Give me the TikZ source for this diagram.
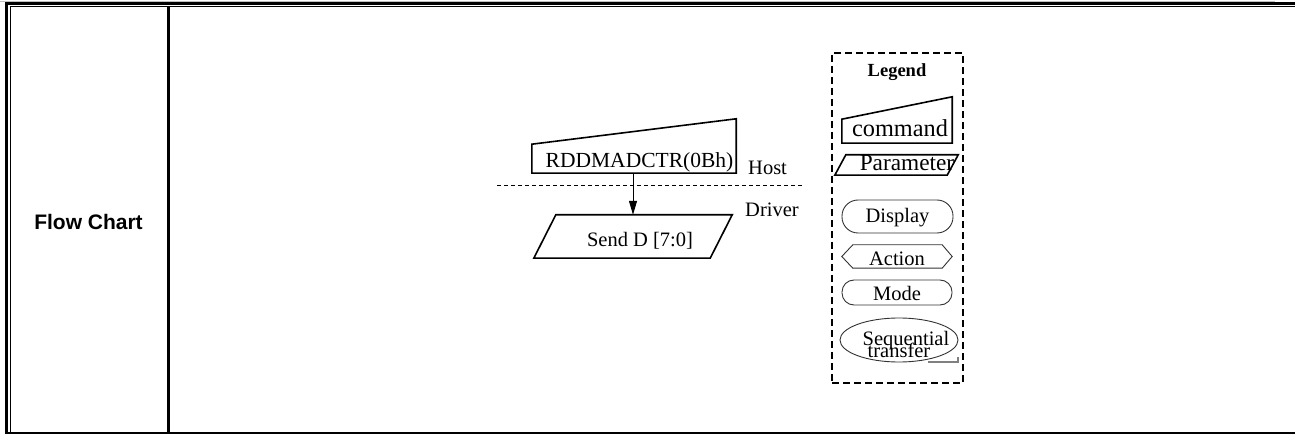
\documentclass[tikz,border=0pt]{standalone}
\usepackage{fontspec}
\setmainfont{Liberation Serif}
\setsansfont{Liberation Sans}
\usetikzlibrary{arrows.meta, positioning, calc, shapes.geometric}
\newcommand{\tightlines}{\setlength{\lineskiplimit}{-100pt}}

\begin{document}
\begin{tikzpicture}[x=1pt, y=1pt,
      txt/.style={font=\fontsize{20.5}{20.5}\selectfont, inner sep=0pt},
      shp/.style={draw=black, line width=1.6pt, line join=miter},
      lgd/.style={draw=black!80, line width=0.9pt},
      arr/.style={-{Triangle[length=14pt, width=8pt]}, line width=1pt},
    ]
    \useasboundingbox (0,0) rectangle (1295,434);
    % table frame
    \draw[gray!50, line width=1pt] (0,432.5) -- (1275,432.5);
    \draw[line width=3pt] (6,430.5) -- (1295,430.5);
    \draw[line width=1pt] (9.5,427.5) -- (1295,427.5);
    \draw[line width=2.5pt] (6.5,432) -- (6.5,0);
    \draw[line width=1pt] (10,427.5) -- (10,1);
    \draw[line width=3pt] (168.5,427.5) -- (168.5,1);
    \draw[line width=1.5pt] (6,1) -- (1295,1);
    \node[font=\sffamily\bfseries\fontsize{21}{21}\selectfont] (title) at (88.5,212) {Flow Chart};

    % flow
    \node[txt, font=\fontsize{21.5}{21.5}\selectfont, minimum width=204pt, text height=49pt, text depth=5pt]
      (rdd) at (634,288) {\hspace*{11pt}RDDMADCTR(0Bh)};
    \draw[shp] (rdd.south west) -- (rdd.south east) -- (rdd.north east)
      -- ([yshift=29pt]rdd.south west) -- cycle;
    \node[txt, anchor=base west] (host) at (748,259) {Host};
    \node[txt, anchor=base west] (driver) at (745,217) {Driver};
    \draw[line width=1pt, dash pattern=on 4pt off 3pt] (497,248.3) -- (803,248.3);
    \node[txt, minimum width=198pt, text height=32pt, text depth=11pt]
      (send) at (633,197.5) {\hspace*{14pt}Send D [7:0]};
    \draw[shp] (send.south west) -- ([xshift=-22pt]send.south east) -- (send.north east)
      -- ([xshift=22pt]send.north west) -- cycle;
    \draw[arr] (rdd.south -| send.north) -- (send.north);

    % legend
    \node[draw, line width=2pt, dash pattern=on 7pt off 4pt, minimum width=131pt,
      minimum height=330pt, inner sep=0pt] (legend) at (897.5,216) {};
    \node[font=\bfseries\fontsize{18.5}{18.5}\selectfont, anchor=base] (lgdtitle) at (897,357) {Legend};
    \node[txt, font=\fontsize{24.3}{24.3}\selectfont, minimum width=110pt, text height=40pt, text depth=6pt]
      (lcmd) at (897,314) {\hspace*{6pt}command};
    \draw[shp] (lcmd.south west) -- (lcmd.south east) -- (lcmd.north east)
      -- ([yshift=24pt]lcmd.south west) -- cycle;
    \node[txt, font=\fontsize{23.3}{23.3}\selectfont, minimum width=123pt, text height=16pt, text depth=4pt]
      (lpar) at (896.5,269) {\hspace*{21pt}Parameter};
    \draw[shp] (lpar.south west) -- ([xshift=-11pt]lpar.south east) -- (lpar.north east)
      -- ([xshift=11pt]lpar.north west) -- cycle;
    \node[txt, lgd, rounded corners=16pt, minimum width=111pt, text height=23pt, text depth=10pt]
      (ldisp) at (897.5,217.5) {Display};
    \node[txt, minimum width=110pt, text height=21pt, text depth=2pt] (lact) at (897,177.5) {Action};
    \draw[lgd] (lact.west) -- ([xshift=11pt]lact.north west) -- ([xshift=-10pt]lact.north east)
      -- (lact.east) -- ([xshift=-10pt]lact.south east) -- ([xshift=11pt]lact.south west) -- cycle;
    \node[txt, lgd, rounded corners=12pt, minimum width=110pt, text height=21pt, text depth=4pt]
      (lmode) at (897,141.5) {Mode};
    \node[txt, align=center, font={\fontsize{20.5}{12}\selectfont\tightlines}] (lseq) at (899,90)
      {\hspace*{14pt}Sequential\\transfer};
    \draw[lgd] ([yshift=4pt]lseq.center) ellipse [x radius=59, y radius=22];
    \draw[gray, line width=1.2pt] ([xshift=29pt, yshift=-18pt]lseq.center) -- ++(30,0) -- ++(0,5);
  \end{tikzpicture}
\end{document}
